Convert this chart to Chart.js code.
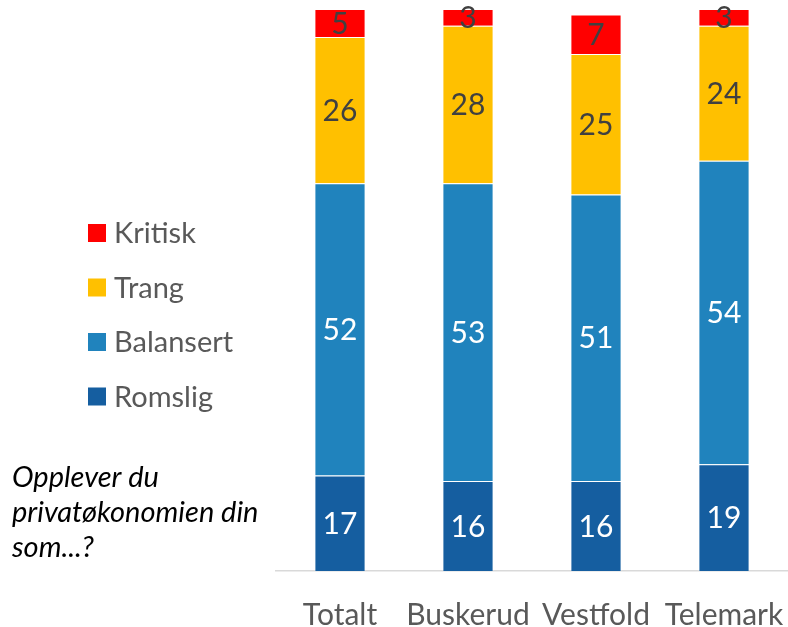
<!DOCTYPE html>
<html>
<head>
<meta charset="utf-8">
<script src="https://cdn.jsdelivr.net/npm/chart.js@4"></script>
<style>
  html, body { margin: 0; padding: 0; background: #fff; }
  #wrap { width: 788px; height: 627px; position: relative; }
</style>
</head>
<body>
<div id="wrap"><canvas id="c" width="788" height="627"></canvas></div>
<script>
const categories = ["Totalt", "Buskerud", "Vestfold", "Telemark"];
const romslig   = [17, 16, 16, 19];
const balansert = [52, 53, 51, 54];
const trang     = [26, 28, 25, 24];
const kritisk   = [5, 3, 7, 3];
const seriesLabels = ["Romslig", "Balansert", "Trang", "Kritisk"];
const seriesColors = ["#155EA0", "#2083BD", "#FFC000", "#FF0000"];
const labelColors  = ["#FFFFFF", "#FFFFFF", "#404040", "#404040"];
const questionLines = ["Opplever du", "privatøkonomien din", "som...?"];

const FONT = "Lato, 'Open Sans', sans-serif";

const valueLabels = {
  id: 'valueLabels',
  afterDatasetsDraw(chart) {
    const ctx = chart.ctx;
    ctx.save();
    ctx.font = "30px " + FONT;
    ctx.textAlign = 'center';
    ctx.textBaseline = 'middle';
    chart.data.datasets.forEach((ds, di) => {
      const meta = chart.getDatasetMeta(di);
      meta.data.forEach((bar, i) => {
        const p = bar.getCenterPoint();
        ctx.fillStyle = labelColors[di];
        ctx.fillText(String(ds.data[i]), p.x, p.y + 1);
      });
    });
    ctx.restore();
  }
};

const sideLegend = {
  id: 'sideLegend',
  afterDraw(chart) {
    const ctx = chart.ctx;
    ctx.save();
    const order = chart.data.datasets.map((d, i) => i).reverse();
    const boxX = 88, box = 18, textX = 114, startY = 233, step = 54.5;
    ctx.font = "29px " + FONT;
    ctx.textBaseline = 'middle';
    ctx.textAlign = 'left';
    order.forEach((di, k) => {
      const ds = chart.data.datasets[di];
      const cy = startY + k * step;
      ctx.fillStyle = ds.backgroundColor;
      ctx.fillRect(boxX, cy - box / 2, box, box);
      ctx.fillStyle = "#595959";
      ctx.fillText(ds.label, textX, cy + 1);
    });
    ctx.font = "italic 29px " + FONT;
    ctx.fillStyle = "#000000";
    ctx.textBaseline = 'alphabetic';
    questionLines.forEach((line, k) => {
      ctx.fillText(line, 12, 487 + k * 35);
    });
    ctx.restore();
  }
};

const seriesData = [romslig, balansert, trang, kritisk];

new Chart(document.getElementById('c'), {
  type: 'bar',
  data: {
    labels: categories,
    datasets: seriesData.map((d, i) => ({
      label: seriesLabels[i],
      data: d,
      backgroundColor: seriesColors[i],
      borderColor: 'rgba(255,255,255,0.3)',
      borderWidth: 1,
      barPercentage: 0.4,
      categoryPercentage: 1.0
    }))
  },
  options: {
    responsive: false,
    animation: false,
    layout: { padding: { left: 276, right: 0, top: 9, bottom: 0 } },
    plugins: { legend: { display: false }, tooltip: { enabled: false } },
    scales: {
      x: {
        stacked: true,
        grid: { display: false, drawTicks: false },
        border: { display: true, color: '#D9D9D9', width: 1.5 },
        ticks: { color: '#595959', font: { family: FONT, size: 30 }, padding: 26,
                 maxRotation: 0, minRotation: 0, autoSkip: false },
        afterFit(scale) {
          scale.height = 56;
          scale.paddingLeft = 0;
          scale.paddingRight = 0;
        }
      },
      y: {
        stacked: true,
        display: false,
        min: 0,
        max: 100
      }
    }
  },
  plugins: [valueLabels, sideLegend]
});
</script>
</body>
</html>
